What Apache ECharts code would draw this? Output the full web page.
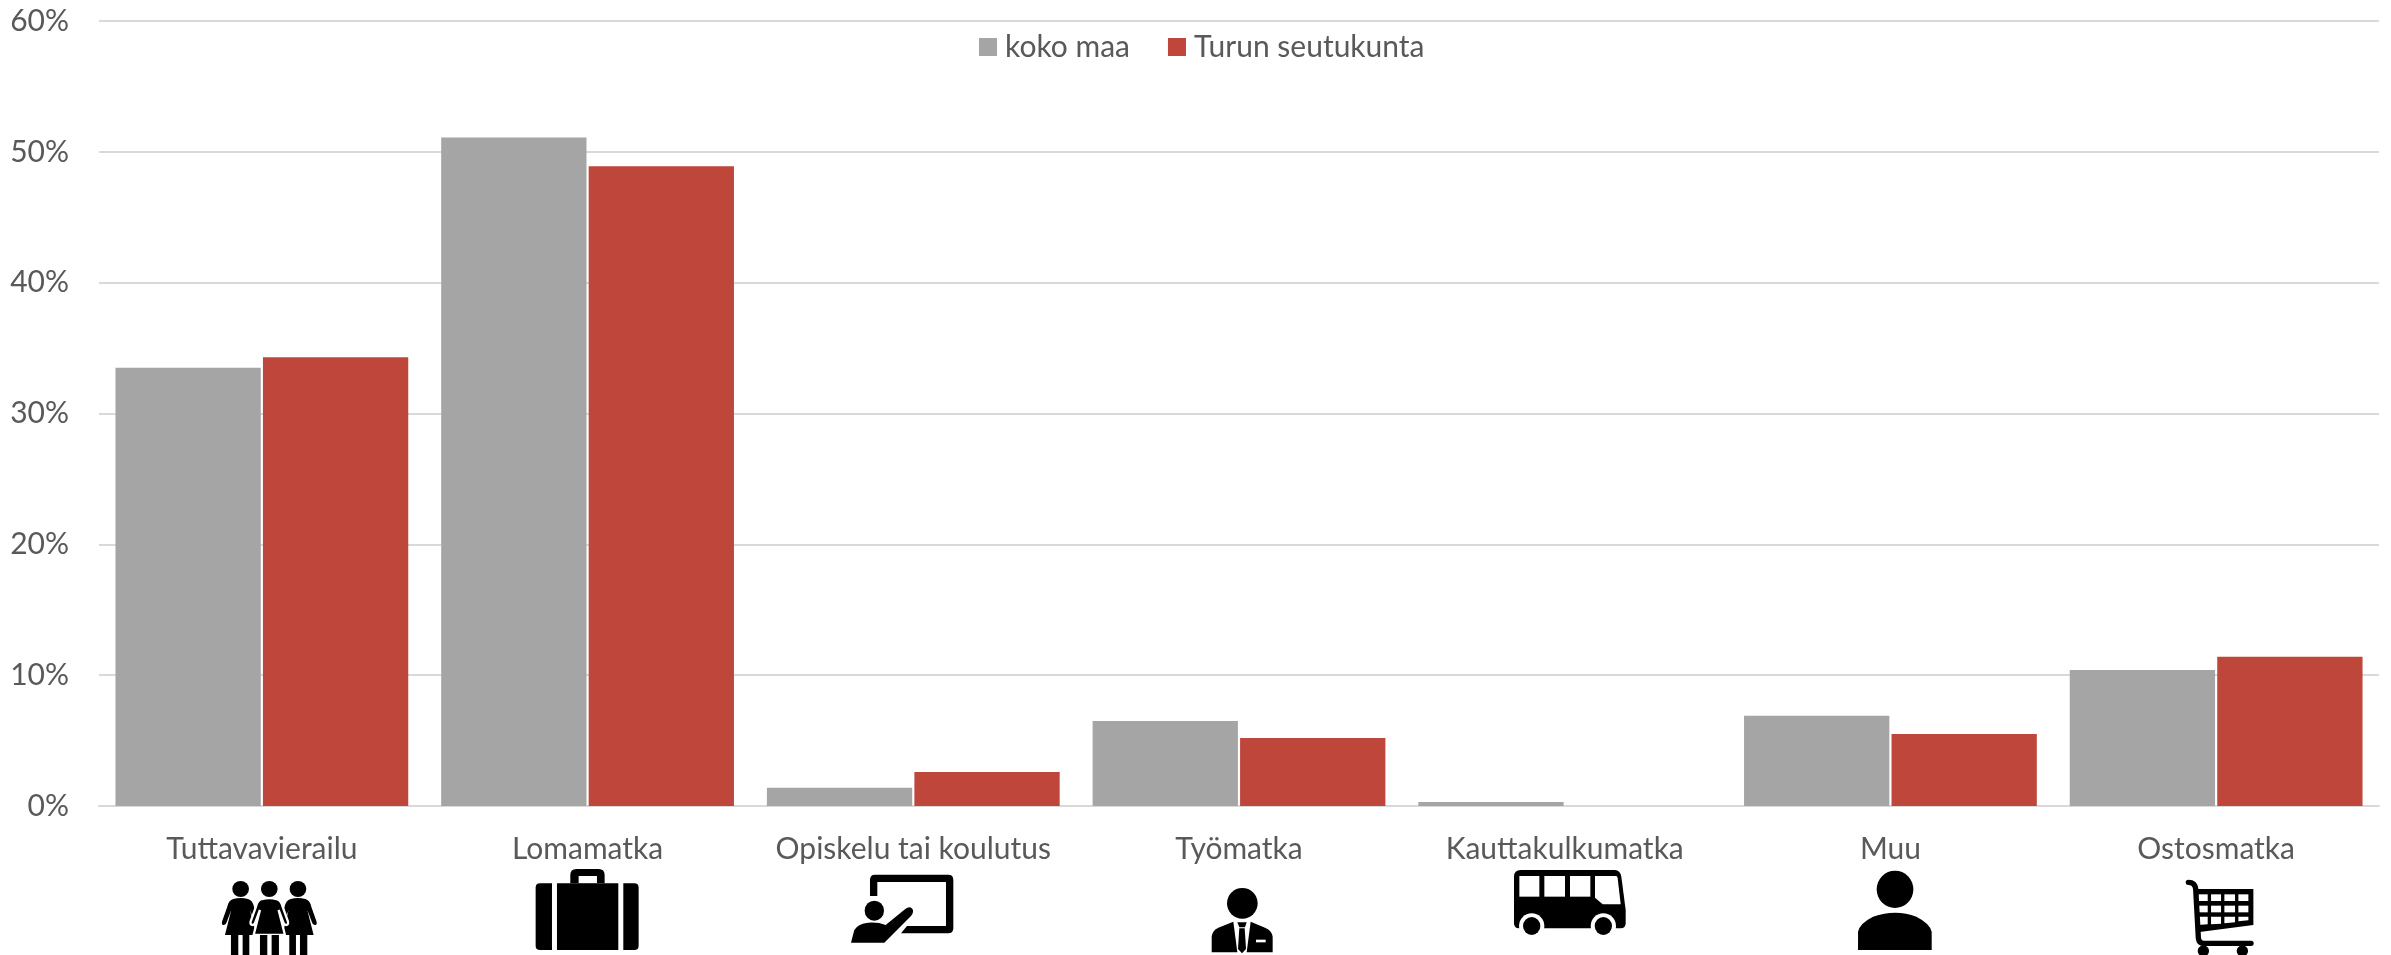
<!DOCTYPE html>
<html>
<head>
<meta charset="utf-8">
<style>html,body{margin:0;padding:0;background:#fff}#c{width:2391px;height:955px}</style>
<script src="https://cdn.jsdelivr.net/npm/echarts@6/dist/echarts.min.js"></script>
</head>
<body>
<div id="c"></div>
<script>
const categories = ['Tuttavavierailu','Lomamatka','Opiskelu tai koulutus','Työmatka','Kauttakulkumatka','Muu','Ostosmatka'];
const kokoMaa = [33.5, 51.1, 1.4, 6.5, 0.3, 6.9, 10.4];
const turunSeutukunta = [34.3, 48.9, 2.6, 5.2, 0, 5.5, 11.4];
const seriesNames = ['koko maa','Turun seutukunta'];
const yTicks = {min:0, max:60, interval:10};

const TEXT = '#595959', GRID = '#d9d9d9', GREY = '#a5a5a5', RED = '#be463a';
const FONT = 'Lato, "Open Sans", sans-serif';

function ell(cx,cy,rx,ry){return `M${cx-rx},${cy}A${rx},${ry} 0 1 0 ${cx+rx},${cy}A${rx},${ry} 0 1 0 ${cx-rx},${cy}Z`;}
function rect(x0,y0,x1,y1){return `M${x0},${y0}L${x1},${y0}L${x1},${y1}L${x0},${y1}Z`;}
function woman(c){
  const X=v=>c+v;
  return `M${X(-22)},72Q${X(0)},66 ${X(22)},72Q${X(36)},76 ${X(40)},95L${X(56)},140Q${X(58)},150 ${X(50)},150Q${X(44)},150 ${X(42)},142L${X(28)},105L${X(47)},180L${X(-47)},180L${X(-28)},105L${X(-42)},142Q${X(-44)},150 ${X(-50)},150Q${X(-58)},150 ${X(-56)},140L${X(-40)},95Q${X(-36)},76 ${X(-22)},72Z`;
}
const W='#ffffff', K='#000000';
// Pictograms under the category labels: local units are thirds of a pixel.
const icons = [
 {dx:-51.9, dy:69, parts:[
  {d:woman(92)},{d:woman(264)},
  {d:rect(63,180,85,245)},{d:rect(98,180,118,245)},{d:rect(238,180,258,245)},{d:rect(270,180,292,245)},
  {d:woman(178),stroke:W,lw:7},
  {d:rect(150,180,172,245)},{d:rect(185,180,207,245)},
  {d:ell(92,42,25,24)},{d:ell(178,42,25,24)},{d:ell(264,42,25,24)}
 ]},
 {dx:-57.6, dy:59, parts:[
  {d:'M121,55L121,30Q121,12 139,12L206,12Q224,12 224,30L224,55Z'},
  {d:rect(146,33,201,55),fill:W},
  {d:'M30,55L66,55L66,255L30,255Q17,255 17,242L17,68Q17,55 30,55Z'},
  {d:rect(81,55,265,255)},
  {d:'M280,55L313,55Q326,55 326,68L326,242Q326,255 313,255L280,255Z'}
 ]},
 {dx:-68.3, dy:64, parts:[
  {d:'M75,30Q75,14 90,14L310,14Q325,14 325,30L325,175Q325,190 310,190L168,190L186,168L303,168L303,36L97,36L97,78L75,78Z'},
  {d:ell(88,122,29,30)},
  {d:'M18,218L28,180Q40,160 70,158Q100,156 122,165L180,118Q195,105 203,118Q207,128 198,138L118,218Z'}
 ]},
 {dx:-39, dy:69, parts:[
  {d:ell(127,85,46,46)},
  {d:'M35,232L35,185Q38,165 55,158L100,140L112,232Z'},
  {d:'M152,140L195,158Q215,165 218,185L218,232L140,232Z'},
  {d:'M112,142L140,142L135,157L118,157Z'},
  {d:'M118,160L134,160L138,222L126,235L114,222Z'},
  {d:rect(168,194,197,202),fill:W}
 ]},
 {dx:-54.7, dy:59, parts:[
  {d:'M12,35Q12,15 32,15L315,15Q330,15 334,35L347,135L347,175Q347,190 332,190L27,190Q12,190 12,175Z'},
  {d:rect(28,33,88,95),fill:W},{d:rect(103,33,165,95),fill:W},{d:rect(180,33,241,95),fill:W},
  {d:'M255,33L318,33Q322,33 323,40L332,118L278,118L255,98Z',fill:W},
  {d:ell(65,183,38,38),fill:W},{d:ell(280,183,38,38),fill:W},
  {d:ell(65,183,26,27)},{d:ell(280,183,26,27)}
 ]},
 {dx:-37.4, dy:59, parts:[
  {d:ell(126,73,55,56)},
  {d:'M15,255L15,200Q20,175 60,155Q95,143 126,143Q160,143 190,155Q230,175 236,200L236,255Z'}
 ]},
 {dx:-31.1, dy:69, parts:[
  {d:'M35,42L205,42L205,150L38,172Z'},
  {d:rect(38,58,68,78),fill:W},{d:rect(78,58,108,78),fill:W},{d:rect(118,58,150,78),fill:W},{d:rect(160,58,190,78),fill:W},
  {d:rect(38,92,68,112),fill:W},{d:rect(78,92,108,112),fill:W},{d:rect(118,92,150,112),fill:W},{d:rect(160,92,190,112),fill:W},
  {d:'M38,125L68,125L68,148L38,150Z',fill:W},{d:'M78,125L108,125L108,146L78,148Z',fill:W},
  {d:'M118,125L150,125L150,142L118,145Z',fill:W},{d:'M160,125L190,125L190,136L160,139Z',fill:W},
  {d:'M10,22Q30,22 32,42L40,190Q42,205 55,205L198,205',fill:'none',stroke:K,lw:16,cap:'round'},
  {d:ell(55,228,17,17)},{d:ell(172,228,17,17)}
 ]}
];
const iconAnchors = categories.map((_,i)=>[i,0]);

const chart = echarts.init(document.getElementById('c'), null, {renderer:'canvas'});
chart.setOption({
  animation:false,
  backgroundColor:'#ffffff',
  grid:{left:99,right:12,top:21,height:785,containLabel:false},
  legend:{
    data:seriesNames, left:974, top:27, itemWidth:18, itemHeight:18, itemGap:38,
    icon:'rect', selectedMode:false,
    textStyle:{color:TEXT,fontFamily:FONT,fontSize:30,padding:[0,0,0,3]}
  },
  xAxis:{
    type:'category', data:categories,
    axisTick:{show:false},
    axisLine:{lineStyle:{color:GRID,width:2}},
    axisLabel:{color:TEXT,fontFamily:FONT,fontSize:30,margin:28,interval:0}
  },
  yAxis:{
    type:'value', min:yTicks.min, max:yTicks.max, interval:yTicks.interval,
    axisLine:{show:false}, axisTick:{show:false},
    splitLine:{lineStyle:{color:GRID,width:2}},
    axisLabel:{color:TEXT,fontFamily:FONT,fontSize:30,margin:30,formatter:'{value}%'}
  },
  series:[
    {name:seriesNames[0],type:'bar',data:kokoMaa,barWidth:145.3,barGap:'1.5%',itemStyle:{color:GREY},z:3},
    {name:seriesNames[1],type:'bar',data:turunSeutukunta,barWidth:145.3,barGap:'1.5%',itemStyle:{color:RED},z:3},
    {
      type:'custom', coordinateSystem:'cartesian2d', data:iconAnchors, clip:false, silent:true,
      encode:{x:0,y:1},
      renderItem(params,api){
        const ic = icons[params.dataIndex];
        const p = api.coord([api.value(0),0]);
        return {
          type:'group', x:p[0]+ic.dx, y:p[1]+ic.dy, scaleX:1/3, scaleY:1/3,
          children:ic.parts.map(s=>({
            type:'path', shape:{pathData:s.d},
            style:{fill:s.fill||K, stroke:s.stroke||null, lineWidth:s.lw||0, lineCap:s.cap||'butt'}
          }))
        };
      }
    }
  ]
});
</script>
</body>
</html>
